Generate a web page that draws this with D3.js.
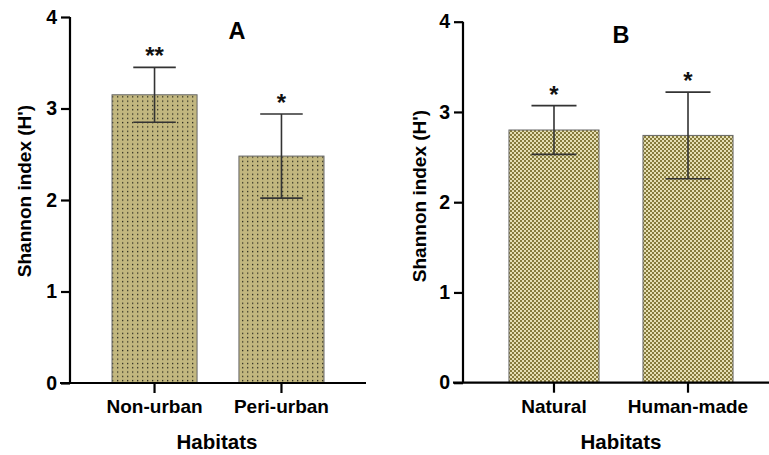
<!DOCTYPE html>
<html><head><meta charset="utf-8">
<script src="https://cdn.jsdelivr.net/npm/d3@7"></script>
<style>body{margin:0;background:#fff}svg{display:block;font-family:"Liberation Sans",Arial,sans-serif}</style>
</head><body><svg id="c" width="769" height="455"></svg>
<script>
const catsA = ["Non-urban", "Peri-urban"];
const meanA = [3.15, 2.48];
const errA = [0.30, 0.46];
const sigA = ["**", "*"];
const catsB = ["Natural", "Human-made"];
const meanB = [2.80, 2.74];
const errB = [0.27, 0.48];
const sigB = ["*", "*"];
const yTicks = [0, 1, 2, 3, 4];

const svg = d3.select("#c");
const defs = svg.append("defs");
// dotted pattern
const pd = defs.append("pattern").attr("id","dots").attr("patternUnits","userSpaceOnUse")
  .attr("width",5).attr("height",4.3);
pd.append("rect").attr("width",5).attr("height",4.3).attr("fill","#c2b77f");
pd.append("rect").attr("x",2).attr("y",1.6).attr("width",1.3).attr("height",1.3).attr("fill","#2a2a1e");
// checker pattern
const pc = defs.append("pattern").attr("id","checks").attr("patternUnits","userSpaceOnUse")
  .attr("width",4).attr("height",4);
pc.append("rect").attr("width",4).attr("height",4).attr("fill","#e6dfb4");
pc.append("rect").attr("x",0).attr("y",0).attr("width",2).attr("height",2).attr("fill","#867b3c");
pc.append("rect").attr("x",2).attr("y",2).attr("width",2).attr("height",2).attr("fill","#867b3c");

function panel(o){
  const g = svg.append("g");
  const y = d3.scaleLinear().domain([0,4]).range([o.y0, o.y4]);
  const x = d3.scaleBand().domain(o.cats).range(o.xr).paddingInner(o.pi).paddingOuter(o.po);
  // bars
  g.selectAll("rect.bar").data(o.cats).join("rect").attr("class","bar")
    .attr("x", d=>x(d)).attr("width", x.bandwidth())
    .attr("y",(d,i)=>y(o.mean[i])).attr("height",(d,i)=>y(0)-y(o.mean[i]))
    .attr("fill", o.fill).attr("stroke","#666").attr("stroke-width",1);
  // error bars
  const cw = x.bandwidth()*0.5;
  o.cats.forEach((c,i)=>{
    const cx = x(c)+x.bandwidth()/2;
    const t = y(o.mean[i]+o.err[i]), b = y(o.mean[i]-o.err[i]);
    g.append("line").attr("x1",cx).attr("x2",cx).attr("y1",t).attr("y2",b).attr("stroke","#333").attr("stroke-width",1.6);
    g.append("line").attr("x1",cx-cw/2).attr("x2",cx+cw/2).attr("y1",t).attr("y2",t).attr("stroke","#333").attr("stroke-width",1.6);
    g.append("line").attr("x1",cx-cw/2).attr("x2",cx+cw/2).attr("y1",b).attr("y2",b).attr("stroke","#333").attr("stroke-width",1.6);
    g.append("text").attr("x",cx).attr("y",t-3).attr("text-anchor","middle")
      .attr("font-size",24).attr("font-weight","bold").attr("fill","#111").text(o.sig[i]);
  });
  // y axis
  const ya = g.append("g").attr("transform",`translate(${o.xr[0]},0)`)
    .call(d3.axisLeft(y).tickValues(yTicks).tickFormat(d3.format("d")).tickSize(9).tickPadding(4));
  ya.select(".domain").attr("stroke","#000").attr("stroke-width",2.2).attr("d",`M0,${o.y4}V${o.y0}`);
  ya.selectAll(".tick line").attr("stroke","#000").attr("stroke-width",2.2);
  ya.selectAll(".tick text").attr("font-size",19.5).attr("font-weight","bold").attr("fill","#000")
    .attr("font-family","Liberation Sans, Arial, sans-serif");
  // x axis
  const xa = g.append("g").attr("transform",`translate(0,${o.y0})`)
    .call(d3.axisBottom(x).tickSize(10).tickPadding(7).tickSizeOuter(0));
  xa.select(".domain").attr("stroke","#000").attr("stroke-width",2.2).attr("d",`M${o.xr[0]-10},0H${o.xr[1]}`);
  xa.selectAll(".tick line").attr("stroke","#000").attr("stroke-width",2.2);
  xa.selectAll(".tick text").attr("font-size",19).attr("font-weight","bold").attr("fill","#000")
    .attr("font-family","Liberation Sans, Arial, sans-serif");
  // titles
  g.append("text").attr("x",o.xTitle).attr("y",449).attr("text-anchor","middle")
    .attr("font-size",20.5).attr("font-weight","bold").text("Habitats");
  g.append("text").attr("transform",`translate(${o.yTitleX},${o.yTitleY}) rotate(-90)`)
    .attr("text-anchor","middle").attr("font-size",19).attr("font-weight","bold").text("Shannon index (H')");
  g.append("text").attr("x",o.lx).attr("y",o.ly).attr("text-anchor","middle")
    .attr("font-size",23.5).attr("font-weight","bold").text(o.letter);
}

panel({cats:catsA, mean:meanA, err:errA, sig:sigA, fill:"url(#dots)",
  y0:383, y4:17, xr:[70,366], pi:0.33, po:0.331, xTitle:217, yTitleX:31, yTitleY:191, letter:"A", lx:237, ly:39});
panel({cats:catsB, mean:meanB, err:errB, sig:sigB, fill:"url(#checks)",
  y0:382.7, y4:21.7, xr:[463,779], pi:0.328, po:0.343, xTitle:621, yTitleX:426, yTitleY:196, letter:"B", lx:621, ly:43});
</script></body></html>
